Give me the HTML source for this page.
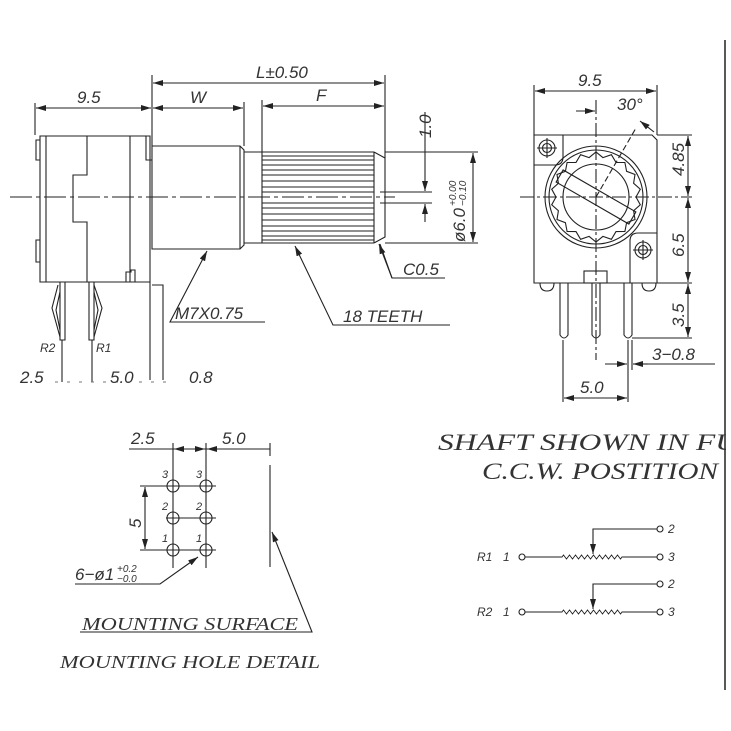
<!DOCTYPE html>
<html><head><meta charset="utf-8"><style>
html,body{margin:0;padding:0;background:#fff}
svg{display:block}
text{font-family:"Liberation Sans",sans-serif;font-style:italic;fill:#333}
.s{font-family:"Liberation Serif",serif}
</style></head><body>
<svg id="g" width="731" height="731" viewBox="0 0 731 731" xmlns="http://www.w3.org/2000/svg">
<defs><marker id="a" viewBox="0 0 10 6" refX="10" refY="3" markerWidth="10" markerHeight="6" orient="auto-start-reverse" markerUnits="userSpaceOnUse"><path d="M0,0L10,3L0,6z" fill="#222"/></marker></defs>
<g stroke="#222" stroke-width="1.1" fill="none">
<line x1="35" y1="103" x2="35" y2="135"/><line x1="152" y1="75" x2="152" y2="146"/>
<line x1="36" y1="108" x2="151" y2="108" marker-start="url(#a)" marker-end="url(#a)"/>
<line x1="153" y1="108" x2="243" y2="108" marker-start="url(#a)" marker-end="url(#a)"/>
<line x1="244" y1="102" x2="244" y2="146"/>
<line x1="153" y1="83" x2="384" y2="83" marker-start="url(#a)" marker-end="url(#a)"/>
<line x1="385" y1="75" x2="385" y2="158"/>
<line x1="262" y1="100" x2="262" y2="152"/>
<line x1="263" y1="106" x2="384" y2="106" marker-start="url(#a)" marker-end="url(#a)"/>
<path d="M40,136H150V282H40Z"/>
<path d="M40,140H36V160H40M40,240H36V262H40"/>
<line x1="46" y1="136" x2="46" y2="282"/>
<path d="M87,136V175H73V222H87V282"/>
<line x1="130" y1="136" x2="130" y2="282"/>
<path d="M126,282V272H131V270H135V282"/>
<path d="M146,136V160H152"/>
<path d="M152,146H240L244,150V245L240,249H152Z"/>
<line x1="240" y1="146" x2="240" y2="249"/>
<path d="M244,152H374M244,243H374"/>
<path d="M262,152V243M374,152V243"/>
<path d="M374,152L385,158V237L374,243"/>
<line x1="385" y1="152" x2="478" y2="152"/><line x1="385" y1="243" x2="478" y2="243"/>
<g id="kn"></g>
<line x1="10" y1="197" x2="395" y2="197" stroke-dasharray="22,4,4,4"/>
<line x1="380" y1="192" x2="432" y2="192"/><line x1="380" y1="203" x2="432" y2="203"/>
<line x1="425" y1="112" x2="425" y2="191" marker-end="url(#a)"/>
<line x1="425" y1="222" x2="425" y2="204" marker-end="url(#a)"/>
<line x1="473" y1="153" x2="473" y2="242" marker-start="url(#a)" marker-end="url(#a)"/>
<path d="M445,278H392L380,244" /><line x1="392" y1="278" x2="379" y2="244" marker-end="url(#a)"/>
<path d="M265,322H170L207,251" marker-end="url(#a)"/>
<path d="M450,325H333L295,246" marker-end="url(#a)"/>
<path d="M60,282V340H65V282"/><path d="M58,285L52,308L60,337M60,292L56,310L60,330"/>
<path d="M89,282V340H94V282"/><path d="M94,285L102,308L94,337M94,292L98,310L94,330"/>
<line x1="62" y1="340" x2="62" y2="382"/><line x1="92" y1="340" x2="92" y2="382"/>
<path d="M150,282V380M152,285H163V380"/>
<line x1="55" y1="382" x2="170" y2="382" stroke-dasharray="3,9" stroke="#777"/>
<line x1="534" y1="85" x2="534" y2="135"/><line x1="657" y1="85" x2="657" y2="135"/>
<line x1="535" y1="91" x2="656" y2="91" marker-start="url(#a)" marker-end="url(#a)"/>
<path d="M534,135H652L657,140V283H534Z"/>
<path d="M534,165H555Q563,165 563,157V135"/>
<circle cx="547" cy="148" r="8"/><circle cx="547" cy="148" r="4.5"/>
<path d="M537,148H557M547,138V158"/>
<path d="M657,233H638Q630,233 630,241V283"/>
<circle cx="643" cy="250" r="8"/><circle cx="643" cy="250" r="4.5"/>
<path d="M633,250H653M643,240V260"/>
<circle cx="596" cy="197" r="51"/><circle cx="596" cy="197" r="47"/>
<path id="gear"/>
<circle cx="596" cy="197" r="33"/>
<g transform="rotate(30 596 197)"><rect x="554" y="190" width="84" height="14"/></g>
<path d="M540,283Q540,291 547,291Q554,291 554,283M642,283Q642,291 649,291Q656,291 656,283"/>
<rect x="584" y="271" width="23" height="12"/>
<path d="M560,283V335Q564,341 568,335V283"/><path d="M592,283V335Q596,341 600,335V283"/><path d="M624,283V335Q628,341 632,335V283"/>
<line x1="596" y1="100" x2="596" y2="360" stroke-dasharray="14,3,3,3"/>
<line x1="520" y1="197" x2="692" y2="197" stroke-dasharray="14,3,3,3"/>
<line x1="596" y1="197" x2="636" y2="128" stroke-dasharray="6,3"/>
<line x1="576" y1="111" x2="595" y2="111" marker-end="url(#a)"/>
<line x1="640" y1="121" x2="654" y2="132" marker-start="url(#a)"/>
<path d="M657,135H692M640,283H692M632,338H692"/>
<line x1="688" y1="136" x2="688" y2="196" marker-start="url(#a)" marker-end="url(#a)"/>
<line x1="688" y1="198" x2="688" y2="282" marker-start="url(#a)" marker-end="url(#a)"/>
<line x1="688" y1="284" x2="688" y2="337" marker-start="url(#a)" marker-end="url(#a)"/>
<line x1="563" y1="340" x2="563" y2="402"/><line x1="628" y1="340" x2="628" y2="402"/><line x1="632" y1="340" x2="632" y2="370"/>
<line x1="564" y1="398" x2="627" y2="398" marker-start="url(#a)" marker-end="url(#a)"/>
<line x1="605" y1="364" x2="627" y2="364" marker-end="url(#a)"/>
<path d="M633,364H715"/><line x1="648" y1="364" x2="633" y2="364" marker-end="url(#a)"/>
<line x1="725" y1="40" x2="725" y2="690" stroke-width="1.5"/>
<line x1="129" y1="449" x2="270" y2="449"/>
<line x1="174" y1="449" x2="205" y2="449" marker-start="url(#a)" marker-end="url(#a)"/>
<line x1="207" y1="449" x2="269" y2="449" marker-start="url(#a)"/>
<path d="M173,443V568M206,443V568M270,443V456M270,465V567"/>
<g id="holes"></g>
<path d="M140,486H216M140,550H216M166,518H216"/>
<line x1="145" y1="487" x2="145" y2="549" marker-start="url(#a)" marker-end="url(#a)"/>
<path d="M75,584H160L198,557" marker-end="url(#a)"/>
<path d="M80,632H312L272,532" marker-end="url(#a)"/>
<g id="sch"></g>
</g>
<g font-size="17">
<text x="77" y="103">9.5</text><text x="190" y="103">W</text><text x="256" y="78">L±0.50</text><text x="316" y="101">F</text>
<text transform="translate(431,138) rotate(-90)">1.0</text>
<text transform="translate(465,242) rotate(-90)">ø6.0</text>
<text transform="translate(456,206) rotate(-90)" font-size="10">+0.00</text>
<text transform="translate(466,206) rotate(-90)" font-size="10">−0.10</text>
<text x="403" y="275">C0.5</text><text x="175" y="319">M7X0.75</text><text x="343" y="322">18  TEETH</text>
<text x="20" y="383">2.5</text><text x="110" y="383">5.0</text><text x="189" y="383">0.8</text>
<text x="578" y="86">9.5</text><text x="617" y="110">30°</text>
<text transform="translate(684,176) rotate(-90)">4.85</text>
<text transform="translate(684,257) rotate(-90)">6.5</text>
<text transform="translate(684,327) rotate(-90)">3.5</text>
<text x="652" y="360">3−0.8</text><text x="580" y="393">5.0</text>
<text x="131" y="444">2.5</text><text x="222" y="444">5.0</text>
<text transform="translate(141,528) rotate(-90)">5</text>
<text x="75" y="580">6−ø1</text>
</g>
<g font-size="10"><text x="117" y="572">+0.2</text><text x="117" y="582">−0.0</text></g>
<g font-size="12"><text x="40" y="352">R2</text><text x="96" y="352">R1</text></g>
<g font-size="11"><text x="162" y="478">3</text><text x="196" y="478">3</text><text x="162" y="510">2</text><text x="196" y="510">2</text><text x="162" y="542">1</text><text x="196" y="542">1</text></g>
<g class="s" font-size="18"><text class="s" x="82" y="630" textLength="216" lengthAdjust="spacingAndGlyphs">MOUNTING SURFACE</text><text class="s" x="60" y="668" textLength="260" lengthAdjust="spacingAndGlyphs">MOUNTING HOLE DETAIL</text></g>
<g font-size="23"><text class="s" x="438" y="450" textLength="300" lengthAdjust="spacingAndGlyphs">SHAFT SHOWN IN FU</text><text class="s" x="482" y="479" textLength="236" lengthAdjust="spacingAndGlyphs">C.C.W. POSTITION</text></g>
<rect x="726" y="425" width="5" height="60" fill="#fff"/>
<g font-size="12"><text x="477" y="561">R1</text><text x="503" y="561">1</text><text x="668" y="561">3</text><text x="668" y="533">2</text>
<text x="477" y="616">R2</text><text x="503" y="616">1</text><text x="668" y="616">3</text><text x="668" y="588">2</text></g>
</svg>
<script>
var NS="http://www.w3.org/2000/svg";
function el(p,t,a){var e=document.createElementNS(NS,t);for(var k in a)e.setAttribute(k,a[k]);document.getElementById(p).appendChild(e);}
var ys=[156,160,165,170,175,181,187,192,203,208,214,220,226,231,236,240];
ys.forEach(function(y){el("kn","line",{x1:262,y1:y,x2:374,y2:y});});
var d="";for(var i=0;i<=36;i++){var a=i*Math.PI/18,r=(i%2?45:40);d+=(i?"L":"M")+(596+r*Math.cos(a)).toFixed(1)+","+(197+r*Math.sin(a)).toFixed(1);}
document.getElementById("gear").setAttribute("d",d+"Z");
[173,206].forEach(function(x){[486,518,550].forEach(function(y){el("holes","circle",{cx:x,cy:y,r:6});});});
[[557,529],[612,584]].forEach(function(r){var y=r[0],t=r[1];
el("sch","circle",{cx:522,cy:y,r:3});el("sch","circle",{cx:660,cy:y,r:3});el("sch","circle",{cx:660,cy:t,r:3});
var z="M525,"+y+"H562";for(var k=0;k<20;k++)z+="L"+(563.5+k*3)+","+(y+(k%2?2:-2));z+="L622,"+y+"H657";
el("sch","path",{d:z,"stroke-width":0.9});
el("sch","path",{d:"M657,"+t+"H593V"+(y-3),"marker-end":"url(#a)"});});
</script>
</body></html>
